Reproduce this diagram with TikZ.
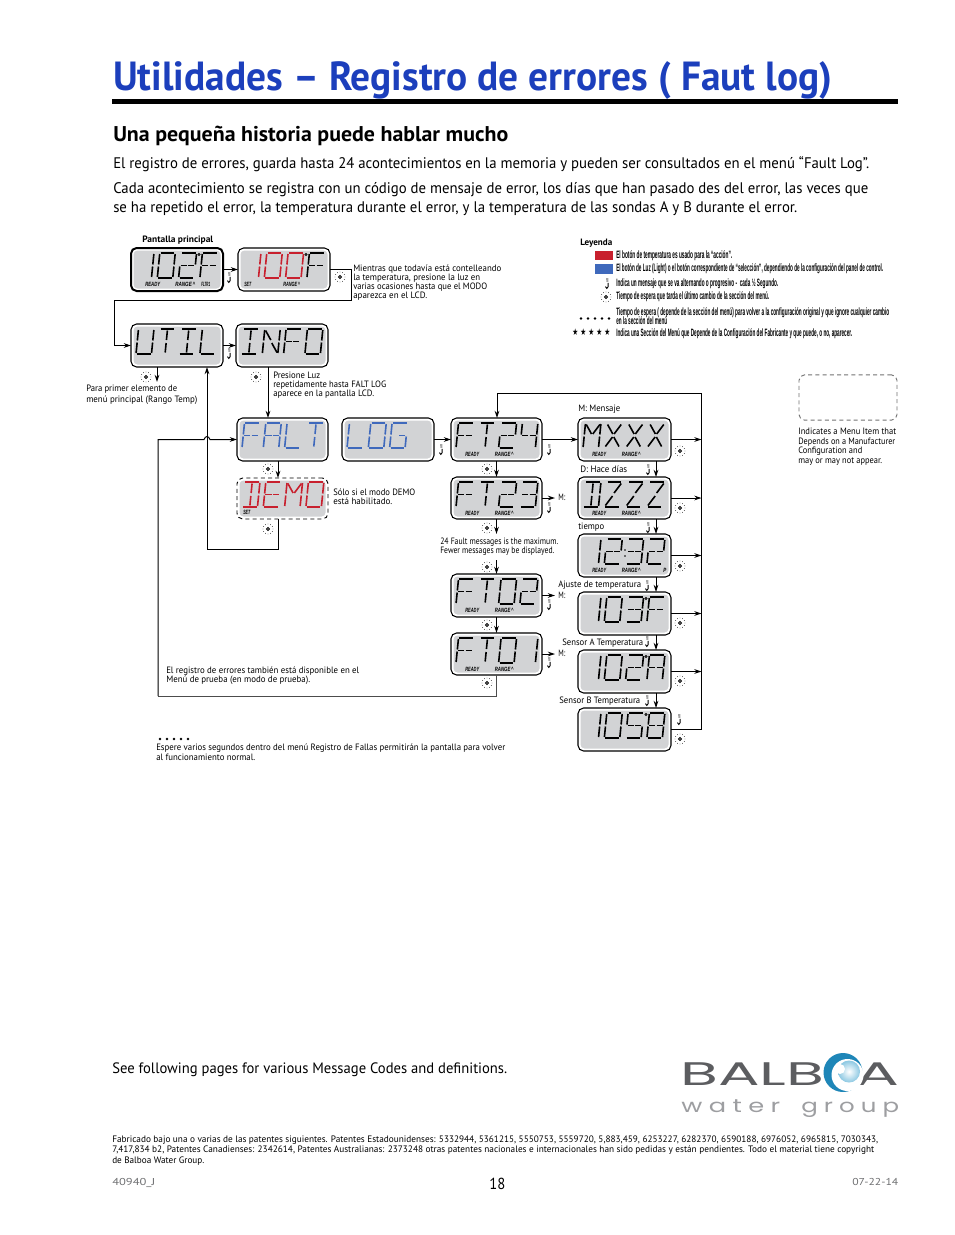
\documentclass[tikz,border=0pt]{standalone}
\usepackage{graphicx}
\usepackage{fontspec}
\setmainfont{PT Sans}
\newfontfamily\legfont{Liberation Sans}
\newfontfamily\symfont{DejaVu Sans}
\newfontfamily\logofont{Poppins}
\newfontfamily\logolight[LetterSpace=25]{Poppins}
\usetikzlibrary{arrows.meta}
\definecolor{lcdgray}{HTML}{D2D3D5}
\definecolor{lcdred}{HTML}{C8202E}
\definecolor{lcdblue}{HTML}{3F69BC}
\definecolor{titleblue}{HTML}{1C3FBC}
\definecolor{foot}{HTML}{6E6F71}
\definecolor{logogray}{HTML}{5C5D60}
\definecolor{logolite}{HTML}{9D9EA1}
\definecolor{swirl}{HTML}{1E86B8}
\definecolor{swirllite}{HTML}{8CC8E2}
\newsavebox\fitb
\newcommand\fitx[2]{\sbox\fitb{#2}\pgfmathsetmacro\fr{#1*0.75/\the\wd\fitb}\scalebox{\fr}[1]{\usebox\fitb}}
\newcount\txn
\newcommand\tx[5]{\global\advance\txn by 1 \node[anchor=base west,inner sep=0pt,font=#4] (t\the\txn) at (#1,#2) {\fitx{#3}{#5}};}
% segment glyphs
\newcommand\segln[4]{\draw (#1,#2)--(#3,#4);}
\newcommand\defseg[5]{\expandafter\def\csname sg@#1\endcsname{\segln{#2}{#3}{#4}{#5}}}
\defseg{a}{.06}{1}{.94}{1}
\defseg{b}{1}{.96}{1}{.54}
\defseg{c}{1}{.46}{1}{.04}
\defseg{d}{.06}{0}{.94}{0}
\defseg{e}{0}{.46}{0}{.04}
\defseg{f}{0}{.96}{0}{.54}
\defseg{p}{.06}{.5}{.46}{.5}
\defseg{q}{.54}{.5}{.94}{.5}
\defseg{h}{.5}{.94}{.5}{.56}
\defseg{i}{.5}{.44}{.5}{.06}
\defseg{j}{.06}{.94}{.46}{.56}
\defseg{k}{.94}{.94}{.54}{.56}
\defseg{l}{.46}{.44}{.06}{.06}
\defseg{m}{.54}{.44}{.94}{.06}
\defseg{n}{0}{0}{0}{0}
\newcommand\defgl[2]{\expandafter\def\csname gl@#1\endcsname{#2}}
\defgl{0}{a,b,c,d,e,f}
\defgl{1}{b,c}
\defgl{2}{a,b,p,q,e,d}
\defgl{3}{a,b,q,p,c,d}
\defgl{4}{f,p,q,b,c}
\defgl{5}{a,f,p,q,c,d}
\defgl{8}{a,b,c,d,e,f,p,q}
\defgl{A}{a,b,c,e,f,p,q}
\defgl{B}{a,b,c,d,e,f,p,q}
\defgl{D}{a,b,c,d,h,i}
\defgl{E}{a,f,e,d,p,q}
\defgl{F}{a,f,e,p,q}
\defgl{G}{a,f,e,d,c,q}
\defgl{I}{a,h,i,d}
\defgl{L}{f,e,d}
\defgl{M}{f,e,j,k,b,c}
\defgl{N}{f,e,j,m,c,b}
\defgl{O}{a,b,c,d,e,f}
\defgl{T}{a,h,i}
\defgl{U}{f,e,d,c,b}
\defgl{X}{j,k,l,m}
\defgl{Z}{a,k,l,d}
\defgl{_}{n}
% x0, ytop, colour, cell, char
\newcommand\lcdglyph[5]{\begin{scope}[shift={({#1+5+21.3*#4},{#2+30})},x=11.6pt,y=18.75pt,xslant=.1,line width=1.2pt,draw=#3]
\edef\glist{\csname gl@#5\endcsname}
\foreach \s in \glist {\csname sg@\s\endcsname}
\end{scope}}
\newcommand\lcdword[6]{\lcdglyph{#1}{#2}{#3}{0}{#4}\lcdglyph{#1}{#2}{#3}{1}{#5}\lcdglyph{#1}{#2}{#3}{2}{#6}}
\newcommand\lcdfour[7]{\lcdword{#1}{#2}{#3}{#4}{#5}{#6}\lcdglyph{#1}{#2}{#3}{3}{#7}}
\newcommand\degsym[2]{\draw[line width=.5pt] ({#1+68},{#2+6.5}) circle (1.2);}
\newcommand\lab[4]{\tx{#1+#3}{#2+38}{#4}{\legfont\fontsize{4.6pt}{5pt}\selectfont\bfseries\itshape}}
% name x y w h style
\newcommand\lcd[6]{\node[lcdbox,#6,minimum width={#4*.75pt},minimum height={#5*.75pt}] (#1) at ({#2+#4/2},{#3+#5/2}) {};
\fill[lcdgray,rounded corners=3pt] ({#2+2.5},{#3+2.5}) rectangle ({#2+#4-2.5},{#3+#5-2.5});}
\tikzset{
 lcdbox/.style={draw=black,fill=white,rounded corners=4.2pt,line width=.8pt,inner sep=0pt,outer sep=0pt},
 heavy/.style={line width=1.5pt},
 dashbox/.style={dashed,dash pattern=on 3pt off 2.4pt,line width=.7pt},
 conn/.style={draw=black,line width=.75pt},
 arr/.style={conn,-{Stealth[length=5.5pt,width=3.6pt]}},
 sunsym/.pic={\draw[line width=.6pt] (0,0) circle (1.5);
   \foreach \a in {0,30,...,330}{\fill[black!70] (\a:5) circle (.45);}},
 scrollsym/.pic={\draw[line width=.7pt] (-1,-5)--(1.4,-5) (-.6,-3)--(1.4,-3) (1.2,-1.2)--(1.2,2.6) .. controls (1.2,5) and (-1.6,5) .. (-1.6,2.6);},
}
\newcommand\dtext[4]{\tx{#1}{#2}{#3}{\fontsize{6.9pt}{7pt}\selectfont}{#4}}
\newcommand\legtext[3]{\tx{616}{#1}{#2}{\legfont\fontsize{8pt}{8pt}\selectfont\bfseries}{#3}}
\newcommand\fivedots[2]{\foreach \i in {0,1,2,3,4}{\fill ({#1+7*\i},#2) circle (1.4);}}
\begin{document}
\begin{tikzpicture}[x=.75pt,y=-.75pt]
\useasboundingbox (0,0) rectangle (954,1235);
\fill[white] (0,0) rectangle (954,1235);
% header
\tx{113}{90}{719}{\bfseries\color{titleblue}\fontsize{30.5pt}{33pt}\selectfont}{Utilidades – Registro de errores ( Faut log)}
\coordinate (ruleL) at (112,101.5); \coordinate (ruleR) at (898,101.5);
\draw[line width=3.6pt] (ruleL)--(ruleR);
\tx{113}{141}{395}{\bfseries\fontsize{16pt}{18pt}\selectfont}{Una pequeña historia puede hablar mucho}
\tx{113}{168}{756}{\fontsize{11.5pt}{13pt}\selectfont}{El registro de errores, guarda hasta 24 acontecimientos en la memoria y pueden ser consultados en el menú “Fault Log”.}
\tx{113}{193}{755}{\fontsize{11.5pt}{13pt}\selectfont}{Cada acontecimiento se registra con un código de mensaje de error, los días que han pasado des del error, las veces que}
\tx{113}{212}{684}{\fontsize{11.5pt}{13pt}\selectfont}{se ha repetido el error, la temperatura durante el error, y la temperatura de las sondas A y B durante el error.}
% panels
\lcd{p102}{131}{248}{92}{43}{heavy}
\lcd{p100}{238}{248}{92}{43}{}
\lcd{util}{131}{324}{92}{43}{}
\lcd{info}{236}{324}{92}{43}{}
\lcd{falt}{237}{418}{91}{43}{}
\lcd{plog}{342}{418}{92}{43}{}
\lcd{ft24}{451}{418}{91}{43}{}
\lcd{demo}{237}{478}{91}{41}{dashbox}
\lcd{ft23}{451}{477}{91}{42}{}
\lcd{ft02}{451}{574}{91}{43}{}
\lcd{ft01}{451}{633}{91}{42}{}
\lcd{mxxx}{578}{418}{93}{43}{}
\lcd{dzzz}{578}{477}{93}{42}{}
\lcd{time}{578}{534}{93}{43}{}
\lcd{t103}{578}{592}{93}{43}{}
\lcd{t102}{578}{650}{93}{43}{}
\lcd{t105}{578}{708}{93}{43}{}
\node[draw=black!55,rounded corners=4.2pt,dashbox,minimum width=73.5pt,minimum height=34pt,inner sep=0pt] (legbox) at (848,397.5) {};
% displays
\lcdfour{131}{248}{black}{1}{0}{2}{F}\degsym{131}{248}
\lcdword{238}{248}{lcdred}{1}{0}{0}\lcdglyph{238}{248}{black}{3}{F}\degsym{238}{248}
\lcdfour{131}{324}{black}{U}{T}{I}{L}
\lcdfour{236}{324}{black}{I}{N}{F}{O}
\lcdfour{237}{418}{lcdblue}{F}{A}{L}{T}
\lcdword{342}{418}{lcdblue}{L}{O}{G}
\lcdfour{451}{418}{black}{F}{T}{2}{4}
\lcdfour{237}{477}{lcdred}{D}{E}{M}{O}
\lcdfour{451}{477}{black}{F}{T}{2}{3}
\lcdfour{451}{574}{black}{F}{T}{0}{2}
\lcdfour{451}{633}{black}{F}{T}{0}{1}
\lcdfour{578}{418}{black}{M}{X}{X}{X}
\lcdfour{578}{477}{black}{D}{Z}{Z}{Z}
\lcdfour{578}{534}{black}{1}{2}{3}{2}
\fill (625,550) circle (.8); \fill (625,556) circle (.8);
\lcdfour{578}{592}{black}{1}{0}{3}{F}\degsym{578}{592}
\lcdfour{578}{650}{black}{1}{0}{2}{A}\degsym{578}{650}
\lcdfour{578}{708}{black}{1}{0}{5}{B}\degsym{578}{708}
% display labels
\lab{131}{248}{14}{15}{READY}
\lab{131}{248}{44}{20}{RANGE\,\textasciicircum}
\lab{131}{248}{70}{9}{FLTR1}
\lab{238}{248}{6}{7}{SET}
\lab{238}{248}{45}{17}{RANGE\,\textasciicircum}
\lab{237}{476}{6}{7}{SET}
\foreach \px/\py in {451/418,451/477,451/574,451/633,578/418,578/477,578/534}{
 \lab{\px}{\py}{14}{14}{READY}
 \lab{\px}{\py}{43.5}{19}{RANGE\,\textasciicircum}
}
\lab{578}{534}{85}{3}{P}
% connectors
\coordinate (a1) at (351,269.5); \coordinate (a2) at (351,300); \coordinate (a3) at (114,300); \coordinate (a4) at (114,345.5);
\draw[arr] (p102.east) -- (p100.west);
\draw[arr] (p100.east) -- (a1) -- (a2) -- (a3) -- (a4) -- (util.west);
\draw[arr] (util.east) -- (info.west);
\coordinate (u1) at (157,367); \coordinate (u2) at (157,382);
\draw[arr] (u1) -- (u2);
\coordinate (ub) at (207,367); \coordinate (d1) at (278,519); \coordinate (d2) at (278,549.5); \coordinate (d3) at (207,549.5);
\draw[arr] (d1) -- (d2) -- (d3) -- (ub);
\coordinate (i1) at (268,367); \coordinate (i2) at (268,418);
\draw[arr] (i1) -- (i2);
\coordinate (r1) at (158,696); \coordinate (r2) at (158,439.5); \coordinate (h1) at (204,439.5); \coordinate (h2) at (210,439.5);
\coordinate (f1) at (496,675); \coordinate (f2) at (496,696);
\draw[draw=black!70,line width=.55pt] (f1) -- (f2) -- (r1);
\draw[arr] (r1) -- (r2) -- (h1) .. controls (205.5,435.5) and (208.5,435.5) .. (h2) -- (falt.west);
\coordinate (fd1) at (278,461); \coordinate (fd2) at (278,478);
\draw[arr] (fd1) -- (fd2);
\draw[arr] (plog.east) -- (ft24.west);
\draw[arr] (ft24.east) -- (mxxx.west);
\draw[arr] (ft24.south) -- (ft23.north);
\coordinate (m1) at (555,498); \coordinate (m2) at (555,595.5); \coordinate (m3) at (555,654);
\draw[arr] (ft23.east) -- (m1);
\draw[arr] (ft02.east) -- (m2);
\draw[arr] (ft01.east) -- (m3);
\coordinate (g1) at (496.5,534); \coordinate (g2) at (496.5,560);
\draw[arr] (ft23.south) -- (g1);
\draw[arr] (g2) -- (ft02.north);
\draw[arr] (ft02.south) -- (ft01.north);
\coordinate (k1) at (656,461); \coordinate (k2) at (656,477);
\coordinate (k3) at (656,519); \coordinate (k4) at (656,534);
\coordinate (k5) at (656,577); \coordinate (k6) at (656,592);
\coordinate (k7) at (656,635); \coordinate (k8) at (656,650);
\coordinate (k9) at (656,693); \coordinate (k10) at (656,708);
\foreach \u/\v in {k1/k2,k3/k4,k5/k6,k7/k8,k9/k10}{\draw[arr] (\u) -- (\v);}
\coordinate (v1) at (701.5,729.5); \coordinate (v2) at (701.5,393.5); \coordinate (v3) at (497,393.5); \coordinate (v4) at (497,418);
\draw[conn] (t105.east) -- (v1) -- (v2) -- (v3);
\draw[arr] (v3) -- (v4);
\foreach \n in {mxxx,dzzz,time,t103,t102}{\coordinate (\n R) at (\n.east -| v1); \draw[arr] (\n.east) -- (\n R);}
% scroll marks
\foreach \x/\y in {229/278,229/354,441/450,549/450,549/508,549/605,549/663,648/470,648/528,647/586,647/642,647/701,679/720,607/284}{\pic at (\x,\y) {scrollsym};}
% timeout marks
\foreach \x/\y in {340/277,146/377,256/377,268/469,487/469,268/529,487/528,487/567,487/625,487/683,680/451,680/508,680/566,680/623,680/681,680/739,606/297}{\pic at (\x,\y) {sunsym};}
% diagram texts
\tx{142}{242}{71}{\bfseries\fontsize{6.9pt}{7pt}\selectfont}{Pantalla principal}
\dtext{353}{271}{148}{Mientras que todavía está contelleando}
\dtext{353}{280}{127}{la temperatura, presione la luz en}
\dtext{353}{289}{134}{varias ocasiones hasta que el MODO}
\dtext{353}{298.5}{74}{aparezca en el LCD.}
\dtext{86}{391.5}{91}{Para primer elemento de}
\dtext{86}{402}{111}{menú principal (Rango Temp)}
\dtext{273}{378.5}{47}{Presione Luz}
\dtext{273}{387.5}{113}{repetidamente hasta FALT LOG}
\dtext{273}{396.5}{101}{aparece en la pantalla LCD.}
\dtext{333}{495}{82}{Sólo si el modo DEMO}
\dtext{333}{504}{59}{está habilitado.}
\dtext{440}{544}{118}{24 Fault messages is the maximum.}
\dtext{440}{553}{114}{Fewer messages may be displayed.}
\dtext{578}{411}{42}{M: Mensaje}
\dtext{580}{472}{47}{D: Hace días}
\dtext{578}{529}{26}{tiempo}
\dtext{558}{587}{83}{Ajuste de temperatura}
\dtext{562}{645}{81}{Sensor A Temperatura}
\dtext{559}{703}{81}{Sensor B Temperatura}
\dtext{558}{500.5}{7}{M:}
\dtext{558}{598}{7}{M:}
\dtext{558}{656}{7}{M:}
\dtext{166}{673}{193}{El registro de errores también está disponible en el}
\dtext{166}{682.5}{144}{Menú de prueba (en modo de prueba).}
\fivedots{160}{739}
\dtext{156}{750}{349}{Espere varios segundos dentro del menú Registro de Fallas permitirán la pantalla para volver}
\dtext{156}{760}{99}{al funcionamiento normal.}
\dtext{798}{434}{98}{Indicates a Menu Item that}
\dtext{798}{444}{97}{Depends on a Manufacturer}
\dtext{798}{453}{64}{Configuration and}
\dtext{798}{463}{84}{may or may not appear.}
% legend
\tx{580}{245}{32}{\bfseries\fontsize{6.9pt}{7pt}\selectfont}{Leyenda}
\fill[lcdred] (595,251) rectangle (613,260);
\fill[lcdblue] (595,264) rectangle (613,274);
\legtext{258}{116}{El botón de temperatura es usado para la “acción”.}
\legtext{271.5}{267}{El botón de Luz (Light) o el botón correspondiente de “selección”, dependiendo de la configuración del panel de control.}
\legtext{286}{162}{Indica un mensaje que se va alternando o progresivo -\ \ cada ½ Segundo.}
\legtext{299.5}{153}{Tiempo de espera que tarda el último cambio de la sección del menú.}
\legtext{315}{273}{Tiempo de espera ( depende de la sección del menú) para volver a la configuración original y que ignore cualquier cambio}
\legtext{324.5}{51}{en la sección del menú}
\legtext{336}{236}{Indica una Sección del Menú que Depende de la Configuración del Fabricante y que puede, o no, aparecer.}
\fivedots{581}{318.5}
\tx{572}{335.5}{38}{\symfont\fontsize{7pt}{7pt}\selectfont}{★ ★ ★ ★ ★}
% footer
\tx{112}{1073}{395}{\fontsize{11.3pt}{12pt}\selectfont}{See following pages for various Message Codes and definitions.}
\tx{112}{1142}{766}{\fontsize{7pt}{8pt}\selectfont}{Fabricado bajo una o varias de las patentes siguientes. Patentes Estadounidenses: 5332944, 5361215, 5550753, 5559720, 5,883,459, 6253227, 6282370, 6590188, 6976052, 6965815, 7030343,}
\tx{112}{1152}{762}{\fontsize{7pt}{8pt}\selectfont}{7,417,834 b2, Patentes Canadienses: 2342614, Patentes Australianas: 2373248 otras patentes nacionales e internacionales han sido pedidas y están pendientes. Todo el material tiene copyright}
\tx{112}{1163}{92}{\fontsize{7pt}{8pt}\selectfont}{de Balboa Water Group.}
\tx{112}{1185}{43}{\color{foot}\fontsize{7.5pt}{8pt}\selectfont}{40940\_J}
\tx{489}{1189}{16}{\fontsize{12pt}{13pt}\selectfont}{18}
\tx{852}{1185}{46}{\color{foot}\fontsize{7.5pt}{8pt}\selectfont}{07-22-14}
% logo
\tx{680}{1085}{144}{\logofont\color{logogray}\fontsize{24.5pt}{26pt}\selectfont}{BALB}
\tx{855}{1085}{44}{\logofont\color{logogray}\fontsize{24.5pt}{26pt}\selectfont}{A}
\tx{681}{1112}{99}{\logolight\color{logolite}\fontsize{14pt}{15pt}\selectfont}{water}
\tx{801}{1112}{98}{\logolight\color{logolite}\fontsize{14pt}{15pt}\selectfont}{group}
\fill[swirl] (843,1072.5) circle (19.5);
\fill[white] (847.5,1075) circle (16);
\shade[inner color=white,outer color=swirllite] (849,1071.5) circle (11);
\fill[white] (840,1069) circle (5);
\end{tikzpicture}
\end{document}
